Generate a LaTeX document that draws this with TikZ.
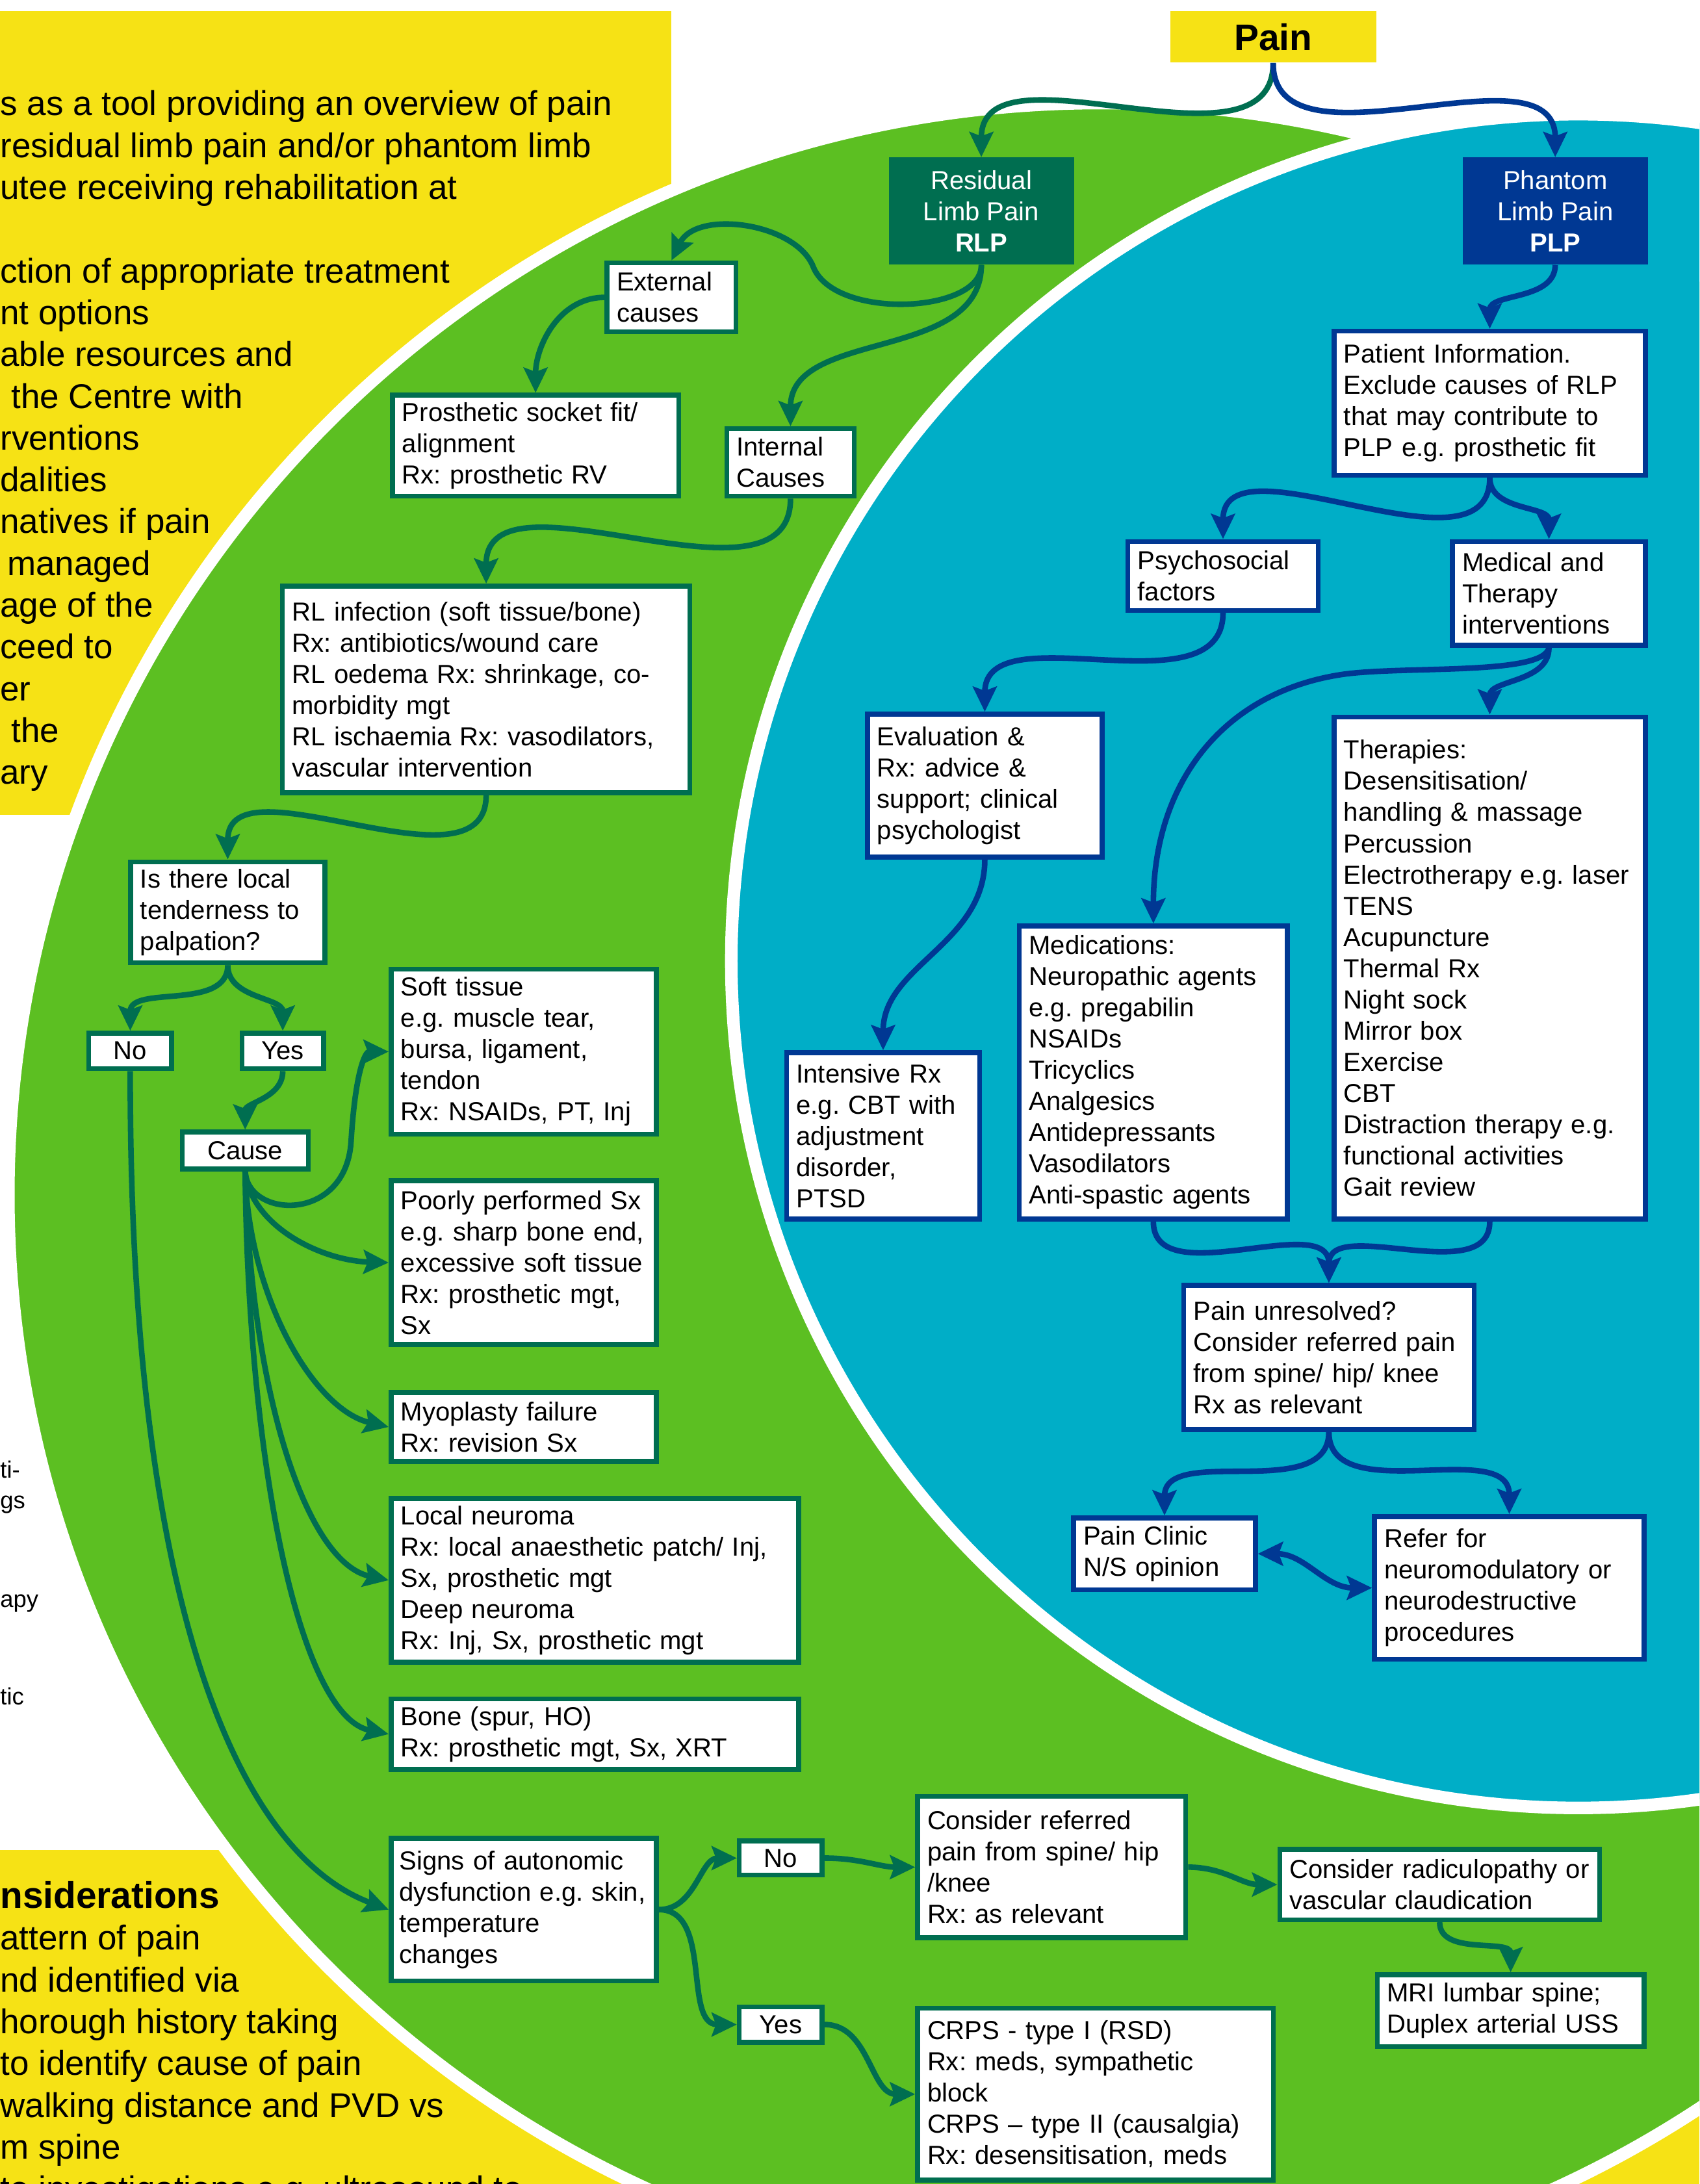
\documentclass[tikz,border=0pt]{standalone}
\usepackage{fontspec}
\setmainfont{Liberation Sans}
\usetikzlibrary{arrows.meta}
\frenchspacing

\definecolor{noteyellow}{HTML}{F6E215}
\definecolor{rlpgreen}{HTML}{5CBF22}
\definecolor{plpcyan}{HTML}{00AEC7}
\definecolor{dkgreen}{HTML}{006E50}
\definecolor{dkblue}{HTML}{003893}

\newcommand{\boxfont}{\fontsize{18.7pt}{22.4pt}\selectfont}
\newcommand{\yellowfont}{\fontsize{24.7pt}{30pt}\selectfont}
\newcommand{\sidefont}{\fontsize{17pt}{22pt}\selectfont}
\newcommand{\painfont}{\fontsize{26.5pt}{30pt}\selectfont\bfseries}

\begin{document}
\begin{tikzpicture}[x=1pt, y=-1pt, >={Stealth[length=18pt,width=17pt,inset=3pt]},
    gbox/.style={draw=dkgreen, fill=white, line width=3.5pt, font=\boxfont, align=left, inner xsep=7pt, inner ysep=0pt},
    bbox/.style={gbox, draw=dkblue},
    cbox/.style={gbox, align=center},
    head/.style={font=\boxfont, text=white, align=center, inner sep=0pt, minimum width=133pt, minimum height=77pt},
    gline/.style={->, draw=dkgreen, line width=4pt},
    bline/.style={->, draw=dkblue, line width=4pt},
    note/.style={anchor=base west, inner sep=0pt, font=\yellowfont}]

    % Background
    \useasboundingbox (0,0) rectangle (1220,1568);
    \clip (0,0) rectangle (1220,1568);
    \fill[noteyellow] (0,8) rectangle (482,585);
    \fill[noteyellow] (0,1328) rectangle (600,1568);
    \fill[noteyellow] (1000,1450) rectangle (1220,1568);

    % Side notes
    \foreach \x/\y/\t in {0/83/{s as a tool providing an overview of pain},
        0/113/{residual limb pain and/or phantom limb},
        0/143/{utee receiving rehabilitation at},
        0/203/{ction of appropriate treatment},
        0/233/{nt options},
        0/263/{able resources and},
        8/293/{the Centre with},
        0/323/{rventions},
        0/353/{dalities},
        0/383/{natives if pain},
        5/413/{managed},
        0/443/{age of the},
        0/473/{ceed to},
        0/503/{er},
        8/533/{the},
        0/563/{ary}}
        \node[note] (top\y) at (\x,\y) {\t};
    \node[note, font=\painfont] (cons) at (0,1370) {nsiderations};
    \foreach \y/\t in {1400/{attern of pain},
        1430/{nd identified via},
        1460/{horough history taking},
        1490/{to identify cause of pain},
        1520/{walking distance and PVD vs},
        1550/{m spine},
        1580/{to investigations e.g. ultrasound to}}
        \node[note] (low\y) at (0,\y) {\t};
    \foreach \y/\t in {1061/{ti-}, 1083/{gs}, 1154/{apy}, 1224/{tic}}
        \node[note, font=\sidefont] (mid\y) at (0,\y) {\t};

    % Circles
    \filldraw[fill=rlpgreen, draw=white, line width=9pt] (790,858) circle[radius=784pt];
    \filldraw[fill=plpcyan, draw=white, line width=9pt] (1133,690) circle[radius=608pt];

    % Nodes
    \node[fill=noteyellow, font=\painfont, minimum width=148pt, minimum height=37pt, inner sep=0pt] (Pain) at (914,26.5) {Pain};
    \node[head, fill=dkgreen] (RLP) at (704.5,151.5) {Residual\\Limb Pain\\\textbf{RLP}};
    \node[head, fill=dkblue] (PLP) at (1116.5,151.5) {Phantom\\Limb Pain\\\textbf{PLP}};

    \node[gbox, text width=78.5pt, minimum height=49.5pt] (Ext) at (482,213.5) {External\\causes};
    \node[gbox, text width=191.5pt, minimum height=72.5pt] (Socket) at (384.5,320) {Prosthetic socket fit/\\alignment\\Rx: prosthetic RV};
    \node[gbox, text width=77.5pt, minimum height=48.5pt] (Int) at (567.5,332) {Internal\\Causes};
    \node[gbox, text width=278.5pt, minimum height=148.5pt] (RLinf) at (349,495) {RL infection (soft tissue/bone)\\Rx: antibiotics/wound care\\RL oedema Rx: shrinkage, co-\\morbidity mgt\\RL ischaemia Rx: vasodilators,\\vascular intervention};
    \node[gbox, text width=125.5pt, minimum height=72.5pt] (Tender) at (163.5,655) {Is there local\\tenderness to\\palpation?};
    \node[cbox, text width=45.5pt, minimum height=25.5pt] (No1) at (93.5,754.5) {No};
    \node[cbox, text width=44.5pt, minimum height=25.5pt] (Yes1) at (203,754.5) {Yes};
    \node[cbox, text width=76.5pt, minimum height=26.5pt] (Cause) at (176,826) {Cause};
    \node[gbox, text width=176.5pt, minimum height=118.5pt] (Soft) at (376,755) {Soft tissue\\e.g. muscle tear,\\bursa, ligament,\\tendon\\Rx: NSAIDs, PT, Inj};
    \node[gbox, text width=176.5pt, minimum height=117.5pt] (Poor) at (376,906.5) {Poorly performed Sx\\e.g. sharp bone end,\\excessive soft tissue\\Rx: prosthetic mgt,\\Sx};
    \node[gbox, text width=176.5pt, minimum height=49.5pt] (Myo) at (376,1024.5) {Myoplasty failure\\Rx: revision Sx};
    \node[gbox, text width=278.5pt, minimum height=117.5pt] (Neuroma) at (427,1134.5) {Local neuroma\\Rx: local anaesthetic patch/ Inj,\\Sx, prosthetic mgt\\Deep neuroma\\Rx: Inj, Sx, prosthetic mgt};
    \node[gbox, text width=278.5pt, minimum height=50.5pt] (Bone) at (427,1245) {Bone (spur, HO)\\Rx: prosthetic mgt, Sx, XRT};
    \node[gbox, inner xsep=3pt, text width=184.5pt, minimum height=102.5pt] (Signs) at (376,1371) {\hspace*{3pt}Signs of autonomic\\\hspace*{3pt}dysfunction e.g. skin,\\\hspace*{3pt}temperature\\\hspace*{3pt}changes};
    \node[cbox, text width=45.5pt, minimum height=24.5pt] (No2) at (560.5,1334) {No};
    \node[cbox, text width=45.5pt, minimum height=25.5pt] (Yes2) at (560.5,1453.5) {Yes};
    \node[gbox, text width=178.5pt, minimum height=101.5pt] (Referred) at (755,1340.5) {Consider referred\\pain from spine/ hip\\/knee\\Rx: as relevant};
    \node[gbox, text width=215.5pt, minimum height=50.5pt] (Radic) at (1033.5,1353) {Consider radiculopathy or\\vascular claudication};
    \node[gbox, text width=177.5pt, minimum height=51.5pt] (MRI) at (1084.5,1443.5) {MRI lumbar spine;\\Duplex arterial USS};
    \node[gbox, text width=241.5pt, minimum height=123.5pt] (CRPS) at (786.5,1503.5) {CRPS - type I (RSD)\\Rx: meds, sympathetic\\block\\CRPS -- type II (causalgia)\\Rx: desensitisation, meds};

    \node[bbox, text width=209.5pt, minimum height=103.5pt] (Info) at (1069.5,289.5) {Patient Information.\\Exclude causes of RLP\\that may contribute to\\PLP e.g. prosthetic fit};
    \node[bbox, text width=122.5pt, minimum height=49.5pt] (Psycho) at (878,413.5) {Psychosocial\\factors};
    \node[bbox, text width=124.5pt, minimum height=74.5pt] (Medical) at (1112,426) {Medical and\\Therapy\\interventions};
    \node[bbox, text width=154.5pt, minimum height=102.5pt] (Eval) at (707,564) {Evaluation \&\\Rx: advice \&\\support; clinical\\psychologist};
    \node[bbox, text width=209.5pt, minimum height=360.5pt] (Therapies) at (1069.5,695) {Therapies:\\Desensitisation/\\handling \& massage\\Percussion\\Electrotherapy e.g. laser\\TENS\\Acupuncture\\Thermal Rx\\Night sock\\Mirror box\\Exercise\\CBT\\Distraction therapy e.g.\\functional activities\\Gait review};
    \node[bbox, text width=178.5pt, minimum height=210.5pt] (Meds) at (828,770) {Medications:\\Neuropathic agents\\e.g. pregabilin\\NSAIDs\\Tricyclics\\Analgesics\\Antidepressants\\Vasodilators\\Anti-spastic agents};
    \node[bbox, text width=124.5pt, minimum height=119.5pt] (Intensive) at (634,815.5) {Intensive Rx\\e.g. CBT with\\adjustment\\disorder,\\PTSD};
    \node[bbox, text width=194.5pt, minimum height=103.5pt] (Unres) at (954,974.5) {Pain unresolved?\\Consider referred pain\\from spine/ hip/ knee\\Rx as relevant};
    \node[bbox, text width=116.5pt, minimum height=51.5pt] (Clinic) at (836,1115.5) {Pain Clinic\\N/S opinion};
    \node[bbox, text width=179.5pt, minimum height=102.5pt] (Refer) at (1083.5,1140) {Refer for\\neuromodulatory or\\neurodestructive\\procedures};

    % Arrows, residual limb side
    \draw[gline] (Pain.south) to[out=-90,in=90] (RLP.north);
    \draw[gline] (RLP.south) .. controls (705,225) and (600,230) .. (584,192) .. controls (572,160) and (500,150) .. (Ext.north);
    \draw[gline] (RLP.south) to[out=-90,in=90] (Int.north);
    \draw[gline] (Ext.west) to[out=180,in=90] (Socket.north);
    \draw[gline] (Int.south) to[out=-90,in=90] (RLinf.north);
    \draw[gline] (RLinf.south) to[out=-90,in=90] (Tender.north);
    \draw[gline] (Tender.south) to[out=-90,in=90] (No1.north);
    \draw[gline] (Tender.south) to[out=-90,in=90] (Yes1.north);
    \draw[gline] (Yes1.south) to[out=-90,in=90] (Cause.north);
    \draw[gline] (No1.south) .. controls (93,1150) and (170,1330) .. (Signs.west);
    \draw[gline] (Cause.south) .. controls (178,875) and (248,878) .. (252,820) .. controls (255,770) and (262,755) .. (Soft.west);
    \draw[gline] (Cause.south) .. controls (180,880) and (230,905) .. (Poor.west);
    \draw[gline] (Cause.south) .. controls (178,930) and (225,1012) .. (Myo.west);
    \draw[gline] (Cause.south) .. controls (180,1000) and (220,1122) .. (Neuroma.west);
    \draw[gline] (Cause.south) .. controls (178,1050) and (215,1232) .. (Bone.west);
    \draw[gline] (Signs.east) to[out=0,in=180] (No2.west);
    \draw[gline] (Signs.east) to[out=0,in=180] (Yes2.west);
    \draw[gline] (No2.east) to[out=0,in=180] (Referred.west);
    \draw[gline] (Yes2.east) to[out=0,in=180] (CRPS.west);
    \draw[gline] (Referred.east) to[out=0,in=180] (Radic.west);
    \draw[gline] (Radic.south) to[out=-90,in=90] (MRI.north);

    % Arrows, phantom limb side
    \draw[bline] (Pain.south) to[out=-90,in=90] (PLP.north);
    \draw[bline] (PLP.south) to[out=-90,in=90] (Info.north);
    \draw[bline] (Info.south) to[out=-90,in=90] (Psycho.north);
    \draw[bline] (Info.south) to[out=-90,in=90] (Medical.north);
    \draw[bline] (Psycho.south) to[out=-90,in=90] (Eval.north);
    \draw[bline] (Medical.south) to[out=-90,in=90] (Therapies.north);
    \draw[bline] (Medical.south) .. controls (1108,485) and (1010,478) .. (965,484) .. controls (880,496) and (828,560) .. (Meds.north);
    \draw[bline] (Eval.south) to[out=-90,in=90] (Intensive.north);
    \draw[bline] (Meds.south) to[out=-90,in=90] (Unres.north);
    \draw[bline] (Therapies.south) to[out=-90,in=90] (Unres.north);
    \draw[bline] (Unres.south) to[out=-90,in=90] (Clinic.north);
    \draw[bline] (Unres.south) to[out=-90,in=90] (Refer.north);
    \draw[bline, <->] (Clinic.east) to[out=0,in=180] (Refer.west);
\end{tikzpicture}
\end{document}
